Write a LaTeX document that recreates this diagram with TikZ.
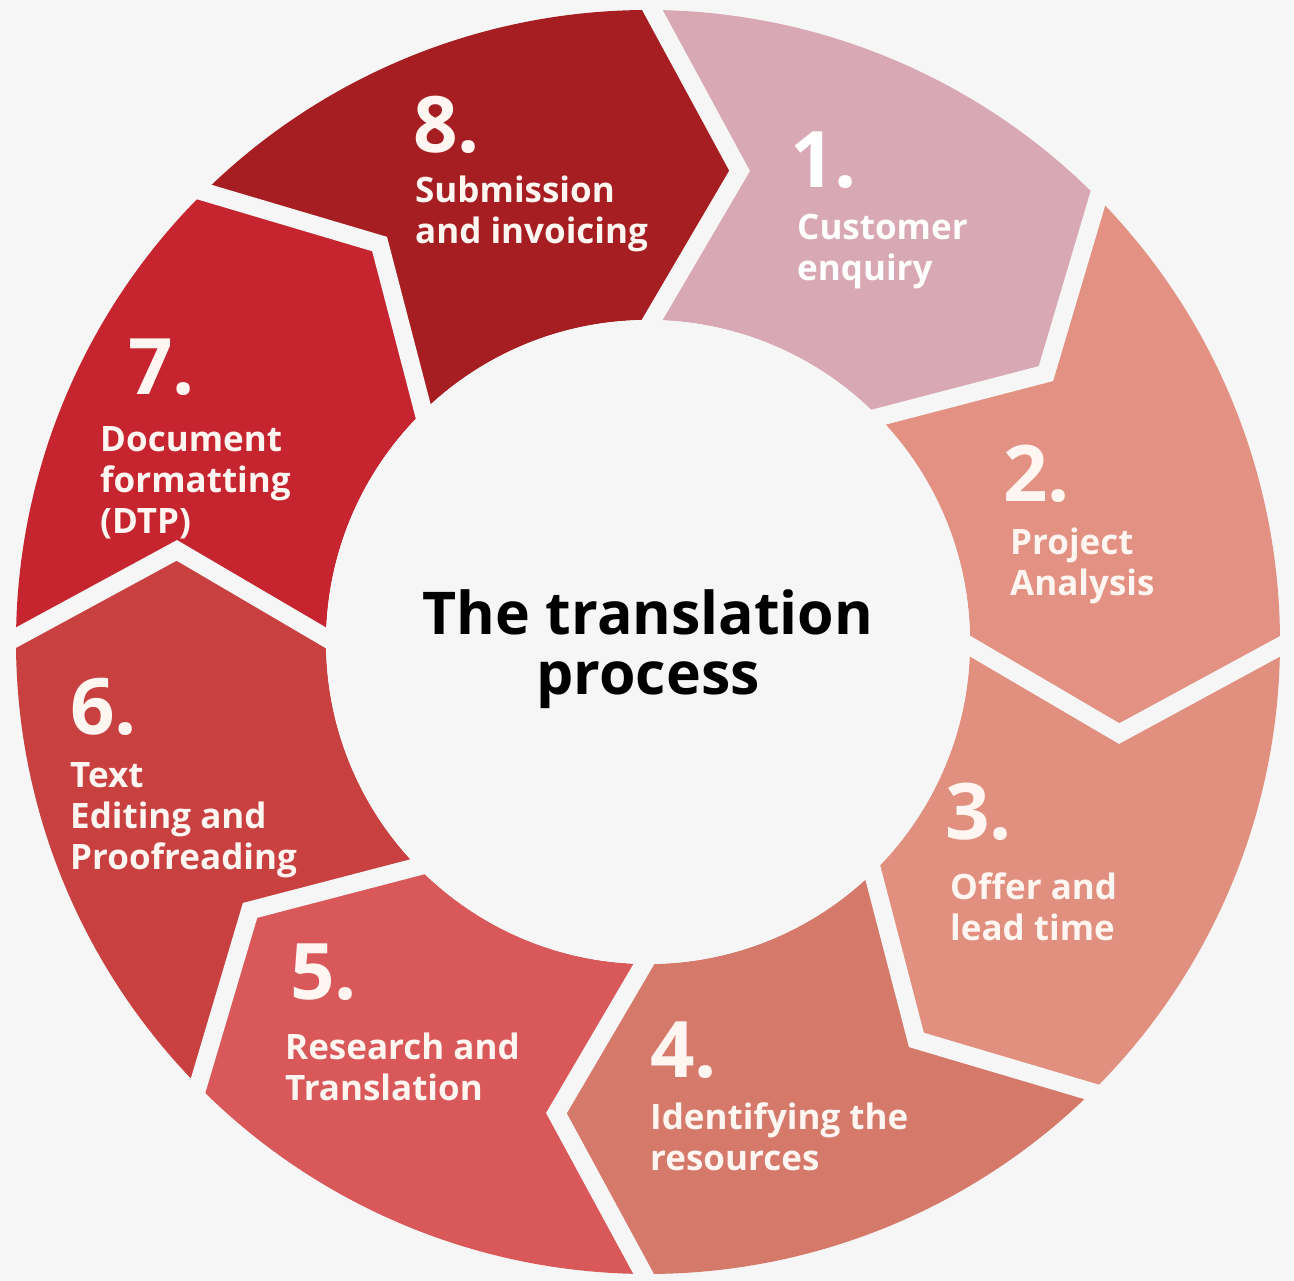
\documentclass[tikz,border=0pt]{standalone}
\usepackage{fontspec}
\setmainfont{Open Sans}
\usetikzlibrary{calc}

\definecolor{bg}{HTML}{F6F6F6}
\definecolor{segA}{HTML}{D8A9B4}
\definecolor{segB}{HTML}{E29182}
\definecolor{segC}{HTML}{E18F7F}
\definecolor{segD}{HTML}{D57A6B}
\definecolor{segE}{HTML}{D9595A}
\definecolor{segF}{HTML}{C8403F}
\definecolor{segG}{HTML}{C62530}
\definecolor{segH}{HTML}{A61E22}
\definecolor{txtlight}{HTML}{FFF6F2}

% stacked lines with a fixed line distance; baseline is that of the first line
\newcommand\stacklines[1]{\vtop{\baselineskip=41pt\lineskiplimit=-100pt #1}}

\begin{document}
\begin{tikzpicture}[x=1pt,y=1pt,
  num/.style={anchor=base west, inner sep=0pt, text=txtlight,
    font=\bfseries\fontsize{78}{78}\selectfont},
  lbl/.style={anchor=base west, inner sep=0pt, text=txtlight,
    font=\bfseries\fontsize{35}{41}\selectfont},
  gapline/.style={draw=bg, line width=18pt, line join=miter, line cap=rect}]

\fill[bg] (0,0) rectangle (1294,1281);
\useasboundingbox (0,0) rectangle (1294,1281);

\begin{scope}[shift={(648,639)}]
  % eight chevron-shaped ring segments, running clockwise
  \foreach \k/\col in {1/segA,2/segB,3/segC,4/segD,5/segE,6/segF,7/segG,8/segH} {
    \pgfmathsetmacro\ts{90-45*(\k-1)}
    \pgfmathsetmacro\te{\ts-45}
    \pgfmathsetmacro\tt{\te-11}
    \pgfmathsetmacro\tn{\ts-11}
    \fill[\col] (\ts:632) arc[start angle=\ts, end angle=\te, radius=632]
      -- (\tt:480) -- (\te:322)
      arc[start angle=\te, end angle=\ts, radius=322]
      -- (\tn:480) -- cycle;
  }
  % separating gaps between the segments
  \foreach \k in {0,...,7} {
    \pgfmathsetmacro\tb{90-45*\k}
    \pgfmathsetmacro\tt{\tb-11}
    \draw[gapline] (\tb:640) -- (\tt:480) -- (\tb:315);
  }
  % central disc
  \fill[bg] (0,0) circle[radius=322];
\end{scope}

% central title
\node (title) [anchor=base, inner sep=0pt, font=\bfseries\fontsize{59}{60}\selectfont]
  at (648,646) {\vtop{\baselineskip=60pt\halign{\hfil#\hfil\cr The translation\cr process\cr}}};

% step 1
\node (n1) [num, text=white] at (790,1093) {1.};
\node (l1) [lbl, text=white] at (797,1041) {\stacklines{\hbox{Customer}\hbox{enquiry}}};
% step 2
\node (n2) [num] at (1003,779) {2.};
\node (l2) [lbl] at (1010,726) {\stacklines{\hbox{Project}\hbox{Analysis}}};
% step 3
\node (n3) [num] at (945,441) {3.};
\node (l3) [lbl] at (950,381) {\stacklines{\hbox{Offer and}\hbox{lead time}}};
% step 4
\node (n4) [num] at (650,203) {4.};
\node (l4) [lbl] at (650,151) {\stacklines{\hbox{Identifying the}\hbox{resources}}};
% step 5
\node (n5) [num] at (290,281) {5.};
\node (l5) [lbl] at (285,221) {\stacklines{\hbox{Research and}\hbox{Translation}}};
% step 6
\node (n6) [num] at (70,546) {6.};
\node (l6) [lbl] at (70,493) {\stacklines{\hbox{Text}\hbox{Editing and}\hbox{Proofreading}}};
% step 7
\node (n7) [num] at (128,886) {7.};
\node (l7) [lbl] at (100,829) {\stacklines{\hbox{Document}\hbox{formatting}\hbox{(DTP)}}};
% step 8
\node (n8) [num] at (413,1128) {8.};
\node (l8) [lbl] at (415,1078) {\stacklines{\hbox{Submission}\hbox{and invoicing}}};

\end{tikzpicture}
\end{document}
